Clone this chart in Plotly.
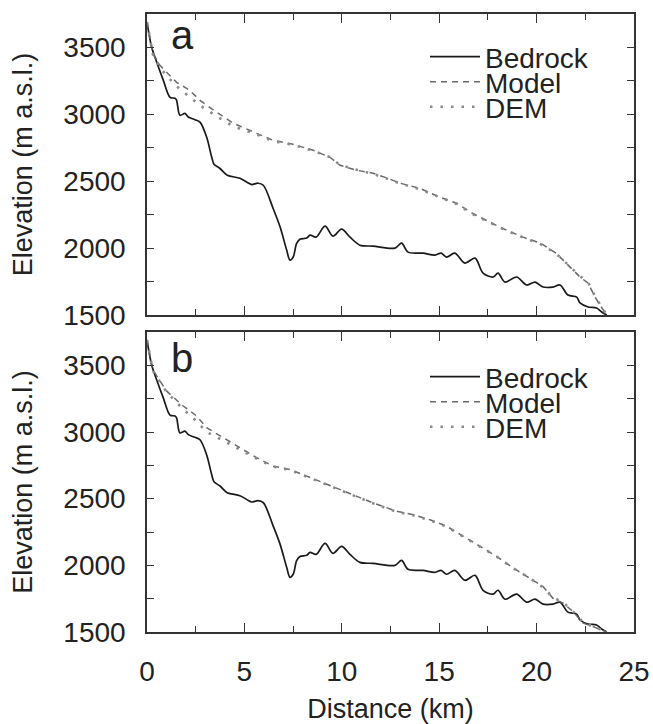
import plotly.graph_objects as go

# ---------------- data ----------------
dist_bed = [0, 0.24, 0.5, 0.84, 1.18, 1.44, 1.52, 1.69, 1.95, 2.12, 2.46, 2.72, 3.06, 3.32, 3.44,
            3.75, 4.12, 4.77, 5.2, 5.37, 5.7, 5.97, 6.47, 6.83, 7.17, 7.34, 7.51, 7.68, 7.85, 8.2,
            8.37, 8.68, 9.14, 9.55, 9.99, 10.42, 10.93, 11.6, 12.73, 13.07, 13.4, 14.17, 14.78,
            15.1, 15.38, 15.8, 16.32, 16.84, 17.25, 17.77, 18.02, 18.38, 18.97, 19.49, 19.92,
            20.33, 20.84, 21.2, 21.61, 22.06, 22.23, 22.64, 23.08, 23.34, 23.6]
bedrock = [3690, 3502, 3390, 3254, 3127, 3120, 3105, 2993, 3007, 2980, 2960, 2942, 2830, 2681, 2627,
           2595, 2545, 2522, 2487, 2475, 2485, 2470, 2298, 2159, 1985, 1910, 1935, 2035, 2067, 2075,
           2097, 2082, 2164, 2090, 2142, 2082, 2022, 2015, 2000, 2037, 1970, 1962, 1948,
           1962, 1933, 1962, 1888, 1925, 1813, 1784, 1813, 1746, 1784, 1724, 1746,
           1709, 1709, 1724, 1649, 1634, 1590, 1560, 1552, 1522, 1500]

dist_surf_a = [0, 0.3, 0.67, 1.0, 1.52, 2.2, 2.72, 3.58, 4.43, 5.63, 6.47, 7.5, 8.53, 9.39, 9.91,
               10.77, 11.6, 12.3, 13.0, 14.0, 15.04, 15.9, 16.7, 17.6, 18.46, 19.3, 20.2, 21.0,
               21.7, 22.23, 22.64, 23.0, 23.25, 23.6]
model_a = [3690, 3455, 3365, 3313, 3239, 3179, 3104, 3015, 2933, 2858, 2806, 2776, 2731, 2679, 2619,
           2582, 2560, 2525, 2485, 2447, 2380, 2335, 2261, 2194, 2134, 2082, 2037, 1962,
           1858, 1784, 1739, 1634, 1575, 1500]
dem_a = [3690, 3450, 3350, 3290, 3210, 3130, 3067, 2985, 2910, 2850, 2800, 2772, 2728, 2680, 2622,
         2585, 2555, 2520, 2483, 2440, 2378, 2330, 2255, 2190, 2130, 2080, 2030, 1960,
         1860, 1790, 1745, 1640, 1580, 1500]

dist_surf_b = [0, 0.3, 1.0, 1.86, 2.55, 3.06, 3.92, 4.77, 5.63, 6.47, 7.34, 8.2, 9.05, 9.91, 10.77,
               11.6, 12.8, 13.67, 14.53, 15.38, 16.24, 17.1, 17.95, 18.8, 19.66, 20.33, 20.84,
               21.36, 21.87, 22.4, 22.9, 23.6]
model_b = [3690, 3466, 3308, 3195, 3120, 3032, 2957, 2882, 2807, 2744, 2719, 2669, 2619, 2569, 2519,
           2469, 2406, 2380, 2342, 2293, 2218, 2143, 2067, 1980, 1905, 1841, 1753,
           1716, 1653, 1566, 1540, 1500]
dem_b = [3690, 3460, 3300, 3170, 3080, 3000, 2935, 2865, 2800, 2740, 2715, 2665, 2615, 2565, 2515,
         2465, 2402, 2375, 2338, 2290, 2215, 2140, 2065, 1978, 1903, 1835, 1760,
         1722, 1655, 1570, 1540, 1500]

series_names = ["Bedrock", "Model", "DEM"]
panel_labels = ["a", "b"]

# ---------------- styling ----------------
FONT = "Liberation Sans, Arial, Helvetica, sans-serif"
AX = "#333333"
BED_C = "#1a1a1a"
MOD_C = "#6a6a6a"
DEM_C = "#8a8a8a"

fig = go.Figure()

panels = [
    ("x", "y", dist_surf_a, model_a, dem_a, ["legend", "legend2", "legend3"]),
    ("x2", "y2", dist_surf_b, model_b, dem_b, ["legend4", "legend5", "legend6"]),
]
for xa, ya, ds, mod, dem, legs in panels:
    fig.add_trace(go.Scatter(x=dist_bed, y=bedrock, mode="lines", name=series_names[0],
                             xaxis=xa, yaxis=ya, legend=legs[0], showlegend=True,
                             line=dict(color=BED_C, width=1.7, shape="spline", smoothing=0.9)))
    fig.add_trace(go.Scatter(x=ds, y=mod, mode="lines", name=series_names[1],
                             xaxis=xa, yaxis=ya, legend=legs[1], showlegend=True,
                             line=dict(color=MOD_C, width=1.5, dash="6px,5px")))
    fig.add_trace(go.Scatter(x=ds, y=dem, mode="lines", name=series_names[2],
                             xaxis=xa, yaxis=ya, legend=legs[2], showlegend=True,
                             line=dict(color=DEM_C, width=2.6, dash="2.5px,8px")))

L, R, T, B = 147, 19, 14, 92
W, H = 653, 724
ph = H - T - B  # 618
top_dom = [(632 - 315) / ph, 1.0]
bot_dom = [0.0, (632 - 332) / ph]

def xaxis(show_labels, anchor):
    return dict(range=[0, 25], dtick=5, tick0=0, ticks="inside", ticklen=9, tickwidth=1.3,
                tickcolor=AX, showline=True, linecolor=AX, linewidth=1.5, mirror="ticks",
                showgrid=False, zeroline=False, showticklabels=show_labels, anchor=anchor,
                minor=dict(dtick=2.5, tick0=0, ticks="inside", ticklen=6, tickcolor=AX, tickwidth=1.3),
                tickfont=dict(size=28, color="#222", family=FONT), ticklabelstandoff=14)

def yaxis(dom, anchor):
    return dict(range=[1500, 3750], dtick=500, tick0=1500, ticks="inside", ticklen=7, tickwidth=1.3,
                tickcolor=AX, showline=True, linecolor=AX, linewidth=1.5, mirror="ticks",
                showgrid=False, zeroline=False, domain=dom, anchor=anchor,
                minor=dict(dtick=250, tick0=1500, ticks="inside", ticklen=7, tickcolor=AX, tickwidth=1.3),
                tickfont=dict(size=28, color="#222", family=FONT), ticklabelstandoff=14,
                title=dict(text="Elevation (m a.s.l.)", font=dict(size=27, color="#222", family=FONT),
                           standoff=23))

layout = dict(
    width=W, height=H, margin=dict(l=L, r=R, t=T, b=B, autoexpand=False),
    paper_bgcolor="white", plot_bgcolor="white", showlegend=True,
    font=dict(family=FONT, color="#222"),
    xaxis=xaxis(False, "y"),
    yaxis=yaxis(top_dom, "x"),
    xaxis2=dict(xaxis(True, "y2"), title=dict(text="Distance (km)",
                font=dict(size=27, color="#222", family=FONT), standoff=18)),
    yaxis2=yaxis(bot_dom, "x2"),
)

# legends (one item each so rows can be spaced like the original)
row_px_top = [57, 82, 107]
row_px_bot = [377, 402, 427]
legend_keys = ["legend", "legend2", "legend3", "legend4", "legend5", "legend6"]
rows = row_px_top + row_px_bot
lx = (425 - L) / (W - L - R)
for key, rp in zip(legend_keys, rows):
    layout[key] = dict(x=lx, y=(632 - rp) / ph, xanchor="left", yanchor="middle",
                       bgcolor="rgba(0,0,0,0)", borderwidth=0, visible=True,
                       font=dict(size=28, color="#222", family=FONT), itemwidth=50)

fig.update_layout(**layout)

# panel letters
for lab, yref, ypos in [(panel_labels[0], "y domain", 0.93), (panel_labels[1], "y2 domain", 0.915)]:
    fig.add_annotation(text=lab, xref="x domain" if yref == "y domain" else "x2 domain",
                       yref=yref, x=0.072, y=ypos, xanchor="center", yanchor="middle",
                       showarrow=False, font=dict(size=40, color="#222", family=FONT))

fig.write_html("out.html")
